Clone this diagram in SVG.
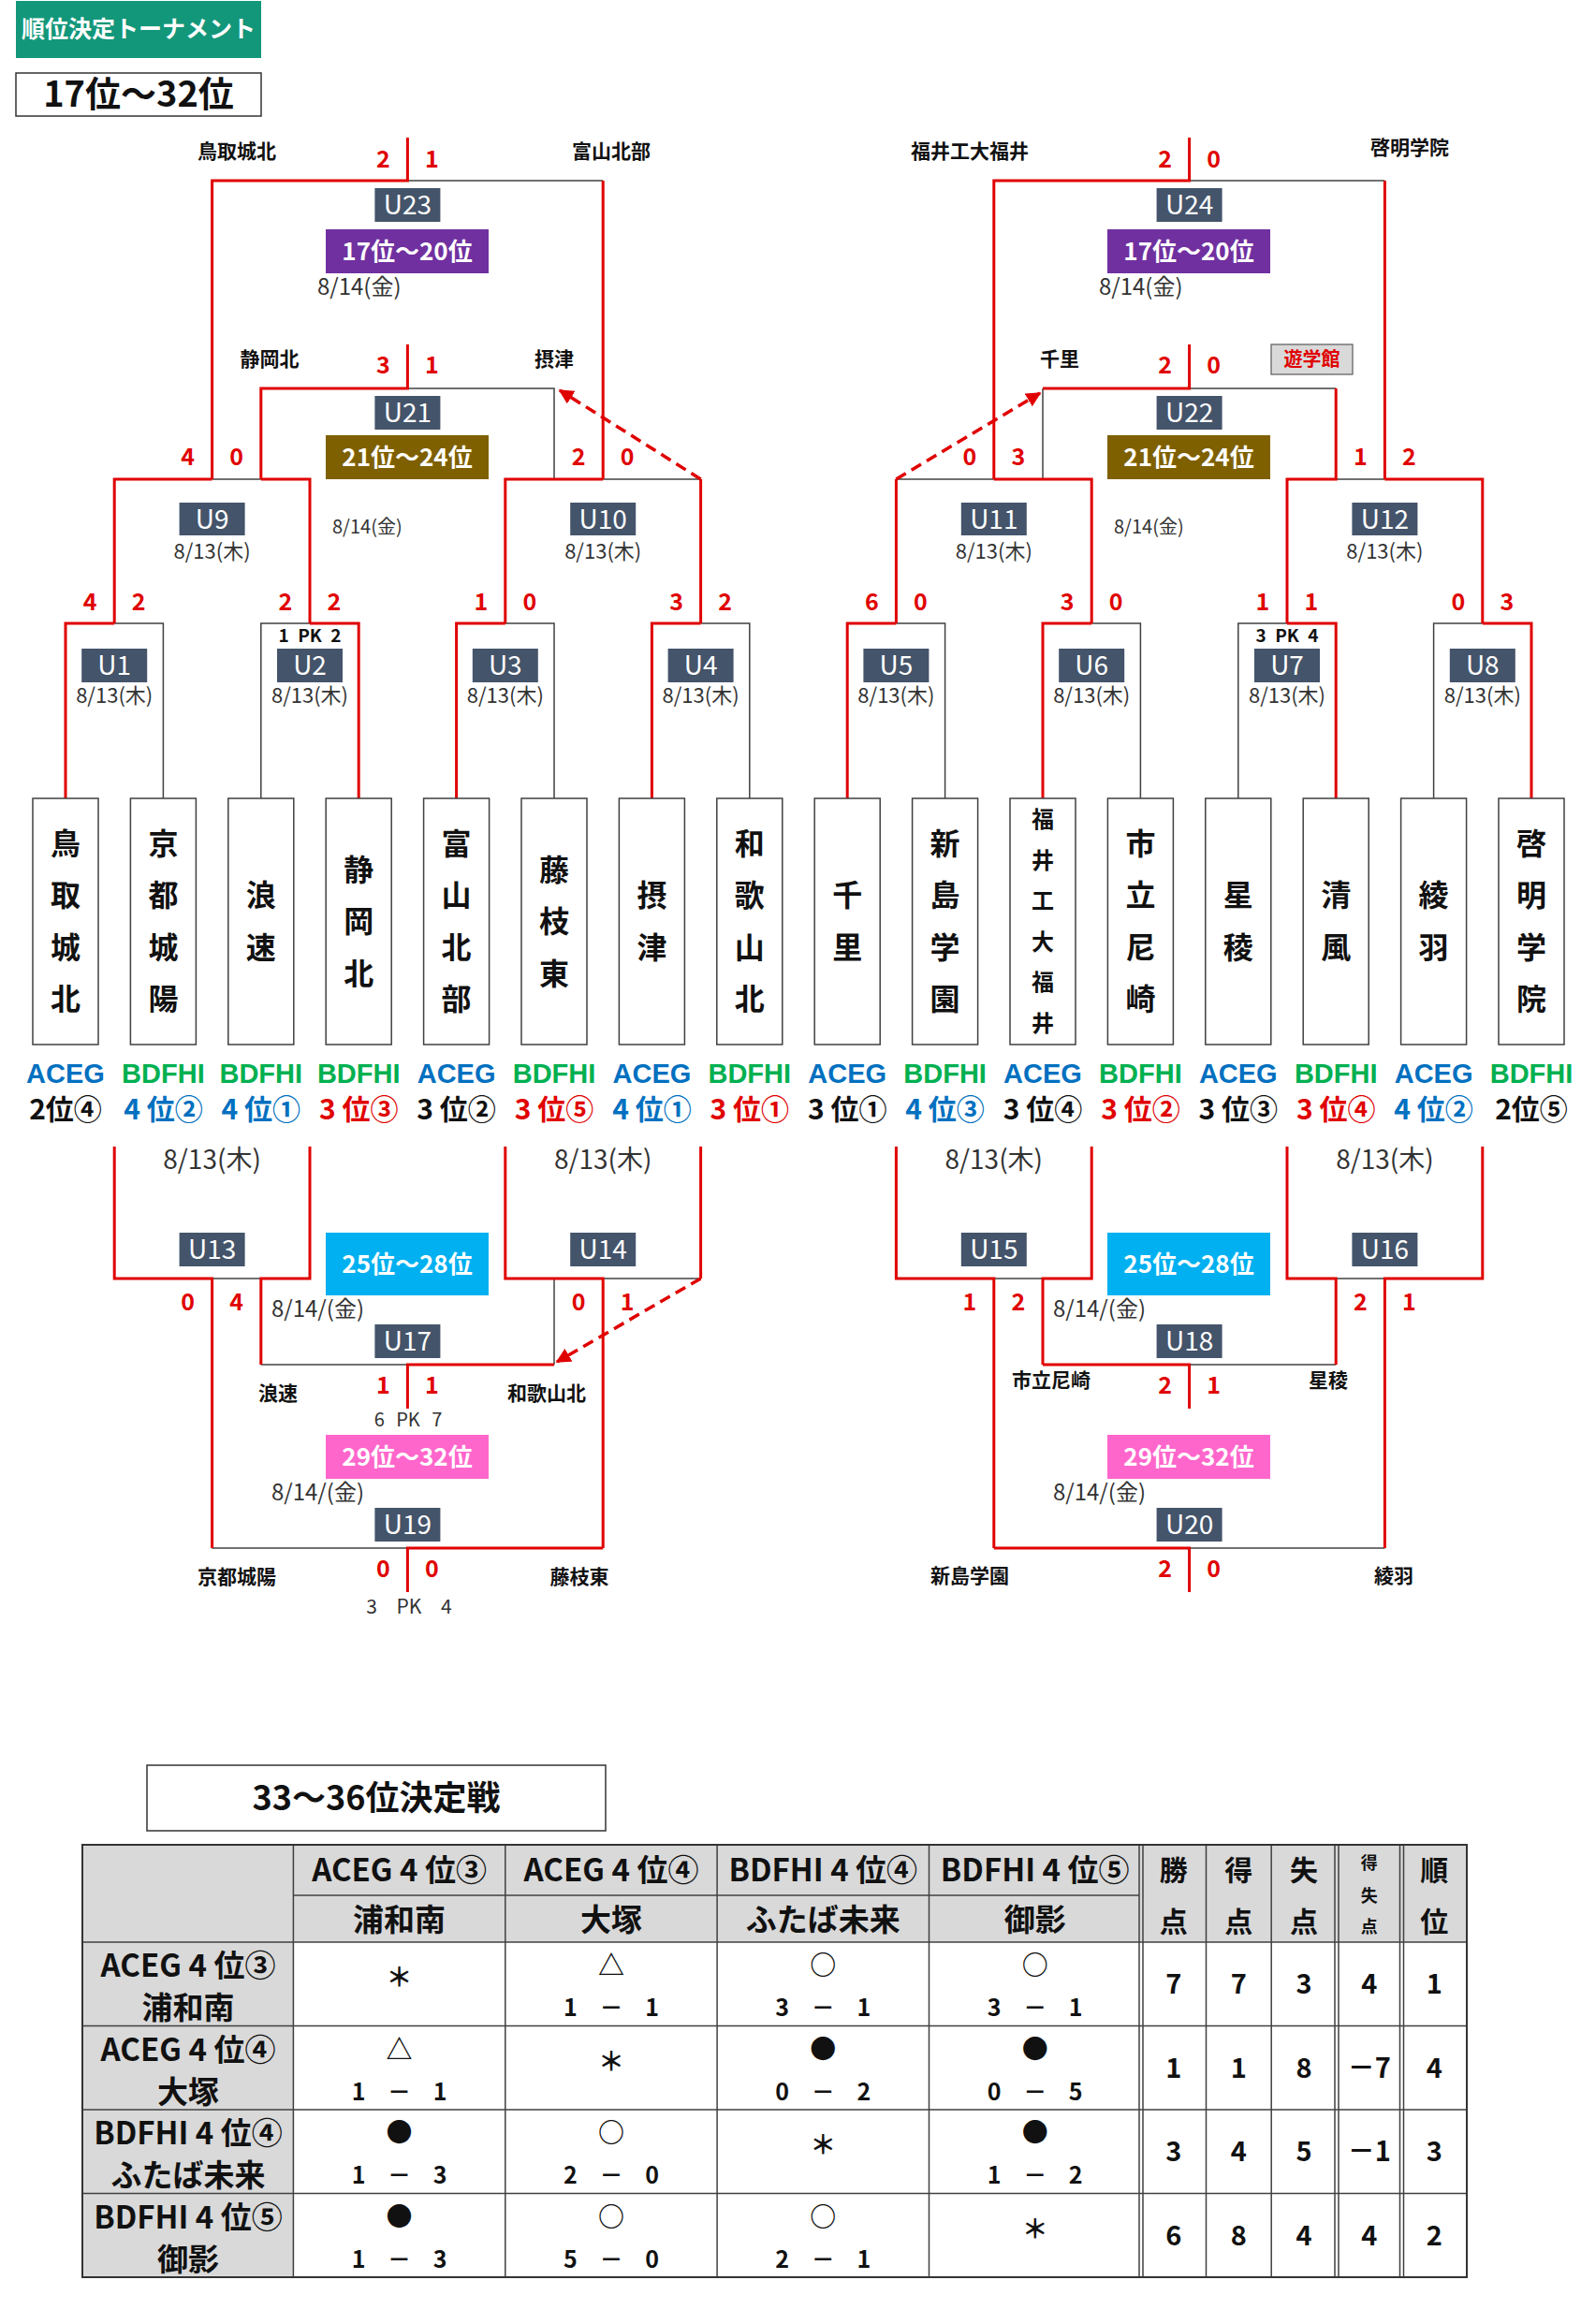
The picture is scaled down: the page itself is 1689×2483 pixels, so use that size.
<svg xmlns="http://www.w3.org/2000/svg" width="1689" height="2483" viewBox="0 0 1689 2483">
<style>
text { font-family: "Noto Sans CJK JP", "Noto Sans", sans-serif; }
.r { fill:none; stroke:#e00000; stroke-width:3; }
.g { fill:none; stroke:#404040; stroke-width:1.5; }
.dash { fill:none; stroke:#e00000; stroke-width:3.5; stroke-dasharray:12 7; }
.sc { font-size:25px; font-weight:bold; fill:#e00000; text-anchor:middle; }
.nm { font-size:21px; font-weight:bold; fill:#111; text-anchor:middle; }
.ub { fill:#44546a; }
.ut { font-size:28px; fill:#fff; text-anchor:middle; }
.rk { font-size:26px; font-weight:bold; fill:#fff; text-anchor:middle; }
.dt { fill:#333; }
.d24 { font-size:24px; }
.d22 { font-size:22px; }
.d20 { font-size:20px; }
.d28 { font-size:28px; }
.mid { text-anchor:middle; }
.pk { font-size:19px; font-weight:bold; fill:#111; text-anchor:middle; word-spacing:5px; }
.pk2 { fill:#333; text-anchor:middle; }
.tb { fill:#fff; stroke:#404040; stroke-width:1.5; }
.tn { font-size:32px; font-weight:bold; fill:#111; text-anchor:middle; }
.tn6 { font-size:24px; font-weight:bold; fill:#111; text-anchor:middle; }
.grp { font-family:"Liberation Sans", Arial, sans-serif; font-size:29px; font-weight:bold; text-anchor:middle; }
.ace { fill:#0070c0; }
.bdf { fill:#00b050; }
.rank { font-size:30px; font-weight:bold; text-anchor:middle; }
.k { fill:#111; }
.b { fill:#0070c0; }
.rd { fill:#e00000; }
.tl { stroke:#404040; stroke-width:1.5; fill:none; }
.th { font-size:33px; font-weight:bold; fill:#111; text-anchor:middle; }
.ts { font-size:30px; font-weight:bold; fill:#111; text-anchor:middle; }
.tsm { font-size:18px; font-weight:bold; fill:#111; text-anchor:middle; }
.sym { font-size:28px; font-weight:bold; fill:#111; text-anchor:middle; }
.scr { font-size:25px; font-weight:bold; fill:#111; text-anchor:middle; word-spacing:18px; }
.st { font-size:29px; font-weight:bold; fill:#111; text-anchor:middle; }
</style>
<defs>
<marker id="ah" viewBox="0 0 10 10" refX="9" refY="5" markerWidth="16" markerHeight="16" markerUnits="userSpaceOnUse" orient="auto">
<path d="M0 0 L10 5 L0 10 z" fill="#e00000"/>
</marker>
</defs>
<rect width="1689" height="2483" fill="#fff"/>

<g id="title">
<rect x="17" y="1" width="262" height="61" fill="#13977a"/>
<text x="148" y="40" font-size="25" font-weight="bold" fill="#fff" text-anchor="middle">順位決定トーナメント</text>
<rect x="17" y="78" width="262" height="46" fill="#fff" stroke="#333" stroke-width="1.5"/>
<text x="148" y="114" font-size="38" font-weight="bold" fill="#111" text-anchor="middle">17位～32位</text>
</g>

<g id="connectors">
<g class="g">
<path d="M435.4 193 H644.2"/>
<path d="M435.4 415 H592 V512"/>
<path d="M226.6 512 H278.8"/>
<path d="M644.2 512 H748.6"/>
<path d="M122.2 666 H174.4 V853"/>
<path d="M331 666 H278.8 V853"/>
<path d="M539.8 666 H592 V853"/>
<path d="M748.6 666 H800.8 V853"/>
<path d="M226.6 1366 H278.8"/>
<path d="M278.8 1458 H435.4"/>
<path d="M592 1458 V1366"/>
<path d="M644.2 1366 H748.6"/>
<path d="M226.6 1654 H435.4"/>
<path d="M1270.6 193 H1479.4"/>
<path d="M1114 415 V512"/>
<path d="M1270.6 415 H1427.2"/>
<path d="M957.4 512 H1061.8"/>
<path d="M1427.2 512 H1479.4"/>
<path d="M957.4 666 H1009.6 V853"/>
<path d="M1166.2 666 H1218.4 V853"/>
<path d="M1375 666 H1322.8 V853"/>
<path d="M1583.8 666 H1531.6 V853"/>
<path d="M1061.8 1366 H1114"/>
<path d="M1270.6 1458 H1427.2"/>
<path d="M1427.2 1366 H1479.4"/>
<path d="M1270.6 1654 H1479.4"/>
</g>
<g class="r">
<path d="M435.4 147 V193 H226.6 V512"/>
<path d="M644.2 193 V512"/>
<path d="M435.4 368 V415 H278.8 V512"/>
<path d="M226.6 512 H122.2 V666"/>
<path d="M278.8 512 H331 V666"/>
<path d="M644.2 512 H539.8 V666"/>
<path d="M748.6 512 V666"/>
<path d="M122.2 666 H70 V853"/>
<path d="M331 666 H383.2 V853"/>
<path d="M539.8 666 H487.6 V853"/>
<path d="M748.6 666 H696.4 V853"/>
<path d="M122.2 1225 V1366 H226.6 V1654"/>
<path d="M331 1225 V1366 H278.8 V1458"/>
<path d="M435.4 1505 V1458 H592"/>
<path d="M539.8 1225 V1366 H644.2 V1654"/>
<path d="M748.6 1225 V1366"/>
<path d="M644.2 1654 H435.4 V1701"/>
<path d="M1270.6 147 V193 H1061.8 V512"/>
<path d="M1479.4 193 V512"/>
<path d="M1270.6 368 V415 H1114"/>
<path d="M1427.2 415 V512 H1375 V666"/>
<path d="M957.4 512 V666"/>
<path d="M1061.8 512 H1166.2 V666"/>
<path d="M1479.4 512 H1583.8 V666"/>
<path d="M957.4 666 H905.2 V853"/>
<path d="M1166.2 666 H1114 V853"/>
<path d="M1375 666 H1427.2 V853"/>
<path d="M1583.8 666 H1636 V853"/>
<path d="M957.4 1225 V1366 H1061.8 V1654"/>
<path d="M1166.2 1225 V1366 H1114 V1458"/>
<path d="M1270.6 1505 V1458 H1114"/>
<path d="M1375 1225 V1366 H1427.2 V1458"/>
<path d="M1583.8 1225 V1366 H1479.4 V1654"/>
<path d="M1270.6 1701 V1654 H1061.8"/>
</g>
<path class="dash" d="M748.6 512 L598 417" marker-end="url(#ah)"/>
<path class="dash" d="M748.6 1366 L595 1455" marker-end="url(#ah)"/>
<path class="dash" d="M957.4 512 L1111 420" marker-end="url(#ah)"/>
</g>

<g id="bracket-labels">
<text class="nm" x="253" y="169">鳥取城北</text>
<text class="nm" x="653" y="169">富山北部</text>
<text class="nm" x="288" y="391">静岡北</text>
<text class="nm" x="592" y="391">摂津</text>
<text class="nm" x="297" y="1496">浪速</text>
<text class="nm" x="584" y="1496">和歌山北</text>
<text class="nm" x="253" y="1692">京都城陽</text>
<text class="nm" x="619" y="1692">藤枝東</text>
<text class="nm" x="1036" y="169">福井工大福井</text>
<text class="nm" x="1506" y="165">啓明学院</text>
<text class="nm" x="1132" y="391">千里</text>
<text class="nm" x="1123" y="1482">市立尼崎</text>
<text class="nm" x="1419" y="1482">星稜</text>
<text class="nm" x="1036" y="1691">新島学園</text>
<text class="nm" x="1489" y="1691">綾羽</text>
</g>
<g id="yugakukan">
<rect x="1358" y="368" width="87" height="32" fill="#d9d9d9" stroke="#595959" stroke-width="1.2"/>
<text x="1401.5" y="391" font-size="20" font-weight="bold" fill="#e00000" text-anchor="middle">遊学館</text>
</g>

<g id="rank-17-20-L"><rect x="348" y="245" width="174" height="47" fill="#7030a0"/><text class="rk" x="435" y="278">17位～20位</text></g>
<g id="rank-21-24-L"><rect x="348" y="465" width="174" height="47" fill="#7f6000"/><text class="rk" x="435" y="498">21位～24位</text></g>
<g id="rank-25-28-L"><rect x="348" y="1317" width="174" height="67" fill="#00b0f0"/><text class="rk" x="435" y="1360">25位～28位</text></g>
<g id="rank-29-32-L"><rect x="348" y="1533" width="174" height="47" fill="#ff66cc"/><text class="rk" x="435" y="1566">29位～32位</text></g>
<g id="rank-17-20-R"><rect x="1183" y="245" width="174" height="47" fill="#7030a0"/><text class="rk" x="1270" y="278">17位～20位</text></g>
<g id="rank-21-24-R"><rect x="1183" y="465" width="174" height="47" fill="#7f6000"/><text class="rk" x="1270" y="498">21位～24位</text></g>
<g id="rank-25-28-R"><rect x="1183" y="1317" width="174" height="67" fill="#00b0f0"/><text class="rk" x="1270" y="1360">25位～28位</text></g>
<g id="rank-29-32-R"><rect x="1183" y="1533" width="174" height="47" fill="#ff66cc"/><text class="rk" x="1270" y="1566">29位～32位</text></g>

<g id="U23"><rect class="ub" x="400.4" y="201" width="70" height="36"/><text class="ut" x="435.4" y="229">U23</text><text class="sc" x="409.4" y="179">2</text><text class="sc" x="461.4" y="179">1</text><text class="dt d24" x="339" y="315">8/14(金)</text></g>
<g id="U24"><rect class="ub" x="1235.6" y="201" width="70" height="36"/><text class="ut" x="1270.6" y="229">U24</text><text class="sc" x="1244.6" y="179">2</text><text class="sc" x="1296.6" y="179">0</text><text class="dt d24" x="1174" y="315">8/14(金)</text></g>
<g id="U21"><rect class="ub" x="400.4" y="423" width="70" height="36"/><text class="ut" x="435.4" y="451">U21</text><text class="sc" x="409.4" y="399">3</text><text class="sc" x="461.4" y="399">1</text><text class="dt d20" x="355" y="570">8/14(金)</text></g>
<g id="U22"><rect class="ub" x="1235.6" y="423" width="70" height="36"/><text class="ut" x="1270.6" y="451">U22</text><text class="sc" x="1244.6" y="399">2</text><text class="sc" x="1296.6" y="399">0</text><text class="dt d20" x="1190" y="570">8/14(金)</text></g>

<g id="U9"><rect class="ub" x="191.6" y="537" width="70" height="35"/><text class="ut" x="226.6" y="565">U9</text><text class="sc" x="200.6" y="497">4</text><text class="sc" x="252.6" y="497">0</text><text class="dt d22 mid" x="226.6" y="597">8/13(木)</text></g>
<g id="U10"><rect class="ub" x="609.2" y="537" width="70" height="35"/><text class="ut" x="644.2" y="565">U10</text><text class="sc" x="618.2" y="497">2</text><text class="sc" x="670.2" y="497">0</text><text class="dt d22 mid" x="644.2" y="597">8/13(木)</text></g>
<g id="U11"><rect class="ub" x="1026.8" y="537" width="70" height="35"/><text class="ut" x="1061.8" y="565">U11</text><text class="sc" x="1035.8" y="497">0</text><text class="sc" x="1087.8" y="497">3</text><text class="dt d22 mid" x="1061.8" y="597">8/13(木)</text></g>
<g id="U12"><rect class="ub" x="1444.4" y="537" width="70" height="35"/><text class="ut" x="1479.4" y="565">U12</text><text class="sc" x="1453.4" y="497">1</text><text class="sc" x="1505.4" y="497">2</text><text class="dt d22 mid" x="1479.4" y="597">8/13(木)</text></g>

<g id="U1"><rect class="ub" x="87.2" y="693" width="70" height="36"/><text class="ut" x="122.2" y="721">U1</text><text class="sc" x="96.2" y="652">4</text><text class="sc" x="148.2" y="652">2</text><text class="dt d22 mid" x="122.2" y="751">8/13(木)</text></g>
<g id="U2"><rect class="ub" x="296" y="693" width="70" height="36"/><text class="ut" x="331" y="721">U2</text><text class="sc" x="305" y="652">2</text><text class="sc" x="357" y="652">2</text><text class="pk" x="331" y="686">1 PK 2</text><text class="dt d22 mid" x="331" y="751">8/13(木)</text></g>
<g id="U3"><rect class="ub" x="504.8" y="693" width="70" height="36"/><text class="ut" x="539.8" y="721">U3</text><text class="sc" x="513.8" y="652">1</text><text class="sc" x="565.8" y="652">0</text><text class="dt d22 mid" x="539.8" y="751">8/13(木)</text></g>
<g id="U4"><rect class="ub" x="713.6" y="693" width="70" height="36"/><text class="ut" x="748.6" y="721">U4</text><text class="sc" x="722.6" y="652">3</text><text class="sc" x="774.6" y="652">2</text><text class="dt d22 mid" x="748.6" y="751">8/13(木)</text></g>
<g id="U5"><rect class="ub" x="922.4" y="693" width="70" height="36"/><text class="ut" x="957.4" y="721">U5</text><text class="sc" x="931.4" y="652">6</text><text class="sc" x="983.4" y="652">0</text><text class="dt d22 mid" x="957.4" y="751">8/13(木)</text></g>
<g id="U6"><rect class="ub" x="1131.2" y="693" width="70" height="36"/><text class="ut" x="1166.2" y="721">U6</text><text class="sc" x="1140.2" y="652">3</text><text class="sc" x="1192.2" y="652">0</text><text class="dt d22 mid" x="1166.2" y="751">8/13(木)</text></g>
<g id="U7"><rect class="ub" x="1340" y="693" width="70" height="36"/><text class="ut" x="1375" y="721">U7</text><text class="sc" x="1349" y="652">1</text><text class="sc" x="1401" y="652">1</text><text class="pk" x="1375" y="686">3 PK 4</text><text class="dt d22 mid" x="1375" y="751">8/13(木)</text></g>
<g id="U8"><rect class="ub" x="1548.8" y="693" width="70" height="36"/><text class="ut" x="1583.8" y="721">U8</text><text class="sc" x="1557.8" y="652">0</text><text class="sc" x="1609.8" y="652">3</text><text class="dt d22 mid" x="1583.8" y="751">8/13(木)</text></g>

<g id="team-01"><rect class="tb" x="35" y="853" width="70" height="263"/><text class="tn"><tspan x="70" y="913">鳥</tspan><tspan x="70" y="968">取</tspan><tspan x="70" y="1024">城</tspan><tspan x="70" y="1079">北</tspan></text><text class="grp ace" x="70" y="1157">ACEG</text><text class="rank k" x="70" y="1196">2位④</text></g>
<g id="team-02"><rect class="tb" x="139.4" y="853" width="70" height="263"/><text class="tn"><tspan x="174.4" y="913">京</tspan><tspan x="174.4" y="968">都</tspan><tspan x="174.4" y="1024">城</tspan><tspan x="174.4" y="1079">陽</tspan></text><text class="grp bdf" x="174.4" y="1157">BDFHI</text><text class="rank b" x="174.4" y="1196">4 位②</text></g>
<g id="team-03"><rect class="tb" x="243.8" y="853" width="70" height="263"/><text class="tn"><tspan x="278.8" y="968">浪</tspan><tspan x="278.8" y="1024">速</tspan></text><text class="grp bdf" x="278.8" y="1157">BDFHI</text><text class="rank b" x="278.8" y="1196">4 位①</text></g>
<g id="team-04"><rect class="tb" x="348.2" y="853" width="70" height="263"/><text class="tn"><tspan x="383.2" y="941">静</tspan><tspan x="383.2" y="996">岡</tspan><tspan x="383.2" y="1052">北</tspan></text><text class="grp bdf" x="383.2" y="1157">BDFHI</text><text class="rank rd" x="383.2" y="1196">3 位③</text></g>
<g id="team-05"><rect class="tb" x="452.6" y="853" width="70" height="263"/><text class="tn"><tspan x="487.6" y="913">富</tspan><tspan x="487.6" y="968">山</tspan><tspan x="487.6" y="1024">北</tspan><tspan x="487.6" y="1079">部</tspan></text><text class="grp ace" x="487.6" y="1157">ACEG</text><text class="rank k" x="487.6" y="1196">3 位②</text></g>
<g id="team-06"><rect class="tb" x="557" y="853" width="70" height="263"/><text class="tn"><tspan x="592" y="941">藤</tspan><tspan x="592" y="996">枝</tspan><tspan x="592" y="1052">東</tspan></text><text class="grp bdf" x="592" y="1157">BDFHI</text><text class="rank rd" x="592" y="1196">3 位⑤</text></g>
<g id="team-07"><rect class="tb" x="661.4" y="853" width="70" height="263"/><text class="tn"><tspan x="696.4" y="968">摂</tspan><tspan x="696.4" y="1024">津</tspan></text><text class="grp ace" x="696.4" y="1157">ACEG</text><text class="rank b" x="696.4" y="1196">4 位①</text></g>
<g id="team-08"><rect class="tb" x="765.8" y="853" width="70" height="263"/><text class="tn"><tspan x="800.8" y="913">和</tspan><tspan x="800.8" y="968">歌</tspan><tspan x="800.8" y="1024">山</tspan><tspan x="800.8" y="1079">北</tspan></text><text class="grp bdf" x="800.8" y="1157">BDFHI</text><text class="rank rd" x="800.8" y="1196">3 位①</text></g>
<g id="team-09"><rect class="tb" x="870.2" y="853" width="70" height="263"/><text class="tn"><tspan x="905.2" y="968">千</tspan><tspan x="905.2" y="1024">里</tspan></text><text class="grp ace" x="905.2" y="1157">ACEG</text><text class="rank k" x="905.2" y="1196">3 位①</text></g>
<g id="team-10"><rect class="tb" x="974.6" y="853" width="70" height="263"/><text class="tn"><tspan x="1009.6" y="913">新</tspan><tspan x="1009.6" y="968">島</tspan><tspan x="1009.6" y="1024">学</tspan><tspan x="1009.6" y="1079">園</tspan></text><text class="grp bdf" x="1009.6" y="1157">BDFHI</text><text class="rank b" x="1009.6" y="1196">4 位③</text></g>
<g id="team-11"><rect class="tb" x="1079" y="853" width="70" height="263"/><text class="tn6"><tspan x="1114" y="884">福</tspan><tspan x="1114" y="928">井</tspan><tspan x="1114" y="971">工</tspan><tspan x="1114" y="1015">大</tspan><tspan x="1114" y="1058">福</tspan><tspan x="1114" y="1102">井</tspan></text><text class="grp ace" x="1114" y="1157">ACEG</text><text class="rank k" x="1114" y="1196">3 位④</text></g>
<g id="team-12"><rect class="tb" x="1183.4" y="853" width="70" height="263"/><text class="tn"><tspan x="1218.4" y="913">市</tspan><tspan x="1218.4" y="968">立</tspan><tspan x="1218.4" y="1024">尼</tspan><tspan x="1218.4" y="1079">崎</tspan></text><text class="grp bdf" x="1218.4" y="1157">BDFHI</text><text class="rank rd" x="1218.4" y="1196">3 位②</text></g>
<g id="team-13"><rect class="tb" x="1287.8" y="853" width="70" height="263"/><text class="tn"><tspan x="1322.8" y="968">星</tspan><tspan x="1322.8" y="1024">稜</tspan></text><text class="grp ace" x="1322.8" y="1157">ACEG</text><text class="rank k" x="1322.8" y="1196">3 位③</text></g>
<g id="team-14"><rect class="tb" x="1392.2" y="853" width="70" height="263"/><text class="tn"><tspan x="1427.2" y="968">清</tspan><tspan x="1427.2" y="1024">風</tspan></text><text class="grp bdf" x="1427.2" y="1157">BDFHI</text><text class="rank rd" x="1427.2" y="1196">3 位④</text></g>
<g id="team-15"><rect class="tb" x="1496.6" y="853" width="70" height="263"/><text class="tn"><tspan x="1531.6" y="968">綾</tspan><tspan x="1531.6" y="1024">羽</tspan></text><text class="grp ace" x="1531.6" y="1157">ACEG</text><text class="rank b" x="1531.6" y="1196">4 位②</text></g>
<g id="team-16"><rect class="tb" x="1601" y="853" width="70" height="263"/><text class="tn"><tspan x="1636" y="913">啓</tspan><tspan x="1636" y="968">明</tspan><tspan x="1636" y="1024">学</tspan><tspan x="1636" y="1079">院</tspan></text><text class="grp bdf" x="1636" y="1157">BDFHI</text><text class="rank k" x="1636" y="1196">2位⑤</text></g>

<g id="U13"><text class="dt d28 mid" x="226.6" y="1249">8/13(木)</text><rect class="ub" x="191.6" y="1317" width="70" height="36"/><text class="ut" x="226.6" y="1345">U13</text><text class="sc" x="200.6" y="1400">0</text><text class="sc" x="252.6" y="1400">4</text></g>
<g id="U14"><text class="dt d28 mid" x="644.2" y="1249">8/13(木)</text><rect class="ub" x="609.2" y="1317" width="70" height="36"/><text class="ut" x="644.2" y="1345">U14</text><text class="sc" x="618.2" y="1400">0</text><text class="sc" x="670.2" y="1400">1</text></g>
<g id="U15"><text class="dt d28 mid" x="1061.8" y="1249">8/13(木)</text><rect class="ub" x="1026.8" y="1317" width="70" height="36"/><text class="ut" x="1061.8" y="1345">U15</text><text class="sc" x="1035.8" y="1400">1</text><text class="sc" x="1087.8" y="1400">2</text></g>
<g id="U16"><text class="dt d28 mid" x="1479.4" y="1249">8/13(木)</text><rect class="ub" x="1444.4" y="1317" width="70" height="36"/><text class="ut" x="1479.4" y="1345">U16</text><text class="sc" x="1453.4" y="1400">2</text><text class="sc" x="1505.4" y="1400">1</text></g>
<g id="U17"><text class="dt d24" x="290" y="1407">8/14/(金)</text><rect class="ub" x="400.4" y="1415" width="70" height="36"/><text class="ut" x="435.4" y="1443">U17</text><text class="sc" x="409.4" y="1489">1</text><text class="sc" x="461.4" y="1489">1</text><text class="pk2" x="436" y="1524" font-size="20" word-spacing="8">6 PK 7</text></g>
<g id="U18"><text class="dt d24" x="1125" y="1407">8/14/(金)</text><rect class="ub" x="1235.6" y="1415" width="70" height="36"/><text class="ut" x="1270.6" y="1443">U18</text><text class="sc" x="1244.6" y="1489">2</text><text class="sc" x="1296.6" y="1489">1</text></g>
<g id="U19"><text class="dt d24" x="290" y="1603">8/14/(金)</text><rect class="ub" x="400.4" y="1611" width="70" height="36"/><text class="ut" x="435.4" y="1639">U19</text><text class="sc" x="409.4" y="1685">0</text><text class="sc" x="461.4" y="1685">0</text><text class="pk2" x="437" y="1724" font-size="21" word-spacing="16">3 PK 4</text></g>
<g id="U20"><text class="dt d24" x="1125" y="1603">8/14/(金)</text><rect class="ub" x="1235.6" y="1611" width="70" height="36"/><text class="ut" x="1270.6" y="1639">U20</text><text class="sc" x="1244.6" y="1685">2</text><text class="sc" x="1296.6" y="1685">0</text></g>

<g id="league-title">
<rect x="157" y="1886" width="490" height="70" fill="#fff" stroke="#333" stroke-width="1.5"/>
<text x="402" y="1934" font-size="36" font-weight="bold" fill="#111" text-anchor="middle">33～36位決定戦</text>
</g>

<g id="league-table">
<rect x="88" y="1971" width="1479" height="104" fill="#d9d9d9"/>
<rect x="88" y="2075" width="225.4" height="358" fill="#d9d9d9"/>
<g class="tl">
<path d="M313.4 1971 V2433 M539.8 1971 V2433 M766.1 1971 V2433 M992.5 1971 V2433"/>
<path d="M1217 1971 V2433 M1221 1971 V2433"/>
<path d="M1288.5 1971 V2433 M1358.2 1971 V2433"/>
<path d="M1426 1971 V2433 M1430 1971 V2433"/>
<path d="M1495.5 1971 V2433 M1499.5 1971 V2433"/>
<path d="M313.4 2025 H1217"/>
<path d="M88 2075 H1567 M88 2164.5 H1567 M88 2254 H1567 M88 2343.5 H1567"/>
</g>
<rect x="88" y="1971" width="1479" height="462" fill="none" stroke="#333" stroke-width="2"/>

<text class="th" x="426.6" y="2010">ACEG 4 位③</text>
<text class="th" x="653" y="2010">ACEG 4 位④</text>
<text class="th" x="879.3" y="2010">BDFHI 4 位④</text>
<text class="th" x="1105.7" y="2010">BDFHI 4 位⑤</text>
<text class="th" x="426.6" y="2063">浦和南</text>
<text class="th" x="653" y="2063">大塚</text>
<text class="th" x="879.3" y="2063">ふたば未来</text>
<text class="th" x="1105.7" y="2063">御影</text>
<text class="ts" x="1253.7" y="2009">勝</text><text class="ts" x="1253.7" y="2064">点</text>
<text class="ts" x="1323.3" y="2009">得</text><text class="ts" x="1323.3" y="2064">点</text>
<text class="ts" x="1393" y="2009">失</text><text class="ts" x="1393" y="2064">点</text>
<text class="tsm" x="1462.7" y="1997">得</text><text class="tsm" x="1462.7" y="2032">失</text><text class="tsm" x="1462.7" y="2065">点</text>
<text class="ts" x="1532.3" y="2009">順</text><text class="ts" x="1532.3" y="2064">位</text>

<text class="th" x="201" y="2112">ACEG 4 位③</text><text class="th" x="201" y="2157">浦和南</text>
<text class="sym" x="426.6" y="2123">＊</text>
<text class="sym" x="653" y="2110">△</text><text class="scr" x="653" y="2154">1 － 1</text>
<text class="sym" x="879.3" y="2110">○</text><text class="scr" x="879.3" y="2154">3 － 1</text>
<text class="sym" x="1105.7" y="2110">○</text><text class="scr" x="1105.7" y="2154">3 － 1</text>
<text class="st" x="1253.7" y="2130">7</text><text class="st" x="1323.3" y="2130">7</text><text class="st" x="1393" y="2130">3</text><text class="st" x="1462.7" y="2130">4</text><text class="st" x="1532.3" y="2130">1</text>

<text class="th" x="201" y="2201.5">ACEG 4 位④</text><text class="th" x="201" y="2246.5">大塚</text>
<text class="sym" x="426.6" y="2199.5">△</text><text class="scr" x="426.6" y="2243.5">1 － 1</text>
<text class="sym" x="653" y="2212.5">＊</text>
<text class="sym" x="879.3" y="2199.5">●</text><text class="scr" x="879.3" y="2243.5">0 － 2</text>
<text class="sym" x="1105.7" y="2199.5">●</text><text class="scr" x="1105.7" y="2243.5">0 － 5</text>
<text class="st" x="1253.7" y="2219.5">1</text><text class="st" x="1323.3" y="2219.5">1</text><text class="st" x="1393" y="2219.5">8</text><text class="st" x="1462.7" y="2219.5">－7</text><text class="st" x="1532.3" y="2219.5">4</text>

<text class="th" x="201" y="2291">BDFHI 4 位④</text><text class="th" x="201" y="2336">ふたば未来</text>
<text class="sym" x="426.6" y="2289">●</text><text class="scr" x="426.6" y="2333">1 － 3</text>
<text class="sym" x="653" y="2289">○</text><text class="scr" x="653" y="2333">2 － 0</text>
<text class="sym" x="879.3" y="2302">＊</text>
<text class="sym" x="1105.7" y="2289">●</text><text class="scr" x="1105.7" y="2333">1 － 2</text>
<text class="st" x="1253.7" y="2309">3</text><text class="st" x="1323.3" y="2309">4</text><text class="st" x="1393" y="2309">5</text><text class="st" x="1462.7" y="2309">－1</text><text class="st" x="1532.3" y="2309">3</text>

<text class="th" x="201" y="2380.5">BDFHI 4 位⑤</text><text class="th" x="201" y="2425.5">御影</text>
<text class="sym" x="426.6" y="2378.5">●</text><text class="scr" x="426.6" y="2422.5">1 － 3</text>
<text class="sym" x="653" y="2378.5">○</text><text class="scr" x="653" y="2422.5">5 － 0</text>
<text class="sym" x="879.3" y="2378.5">○</text><text class="scr" x="879.3" y="2422.5">2 － 1</text>
<text class="sym" x="1105.7" y="2391.5">＊</text>
<text class="st" x="1253.7" y="2398.5">6</text><text class="st" x="1323.3" y="2398.5">8</text><text class="st" x="1393" y="2398.5">4</text><text class="st" x="1462.7" y="2398.5">4</text><text class="st" x="1532.3" y="2398.5">2</text>
</g>
</svg>
